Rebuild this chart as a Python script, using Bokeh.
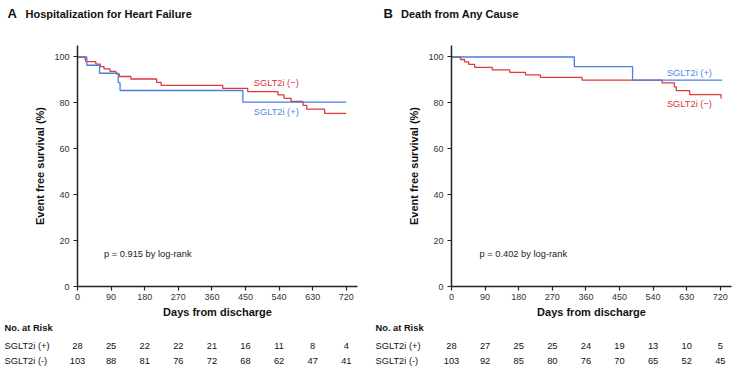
from bokeh.plotting import figure
from bokeh.layouts import row, column
from bokeh.models import Range1d, Label, FixedTicker
from bokeh.core.properties import value
from bokeh.embed import file_html
from bokeh.resources import INLINE

FONT = "Liberation Sans"
RED = "#E0393E"
BLUE = "#4A7FE0"
RED_TXT = "#D8343A"
BLUE_TXT = "#5588E6"

# ---------------- data ----------------
risk_days = [0, 90, 180, 270, 360, 450, 540, 630, 720]
y_ticks = [0, 20, 40, 60, 80, 100]

# Panel A: Hospitalization for Heart Failure
a_pos_days = [0, 25, 59, 109, 114, 443, 720]
a_pos_surv = [100, 96.4, 92.9, 88.8, 85.4, 80.3, 80.3]
a_neg_days = [0, 20, 22, 49, 61, 71, 87, 103, 112, 143, 212, 224, 389, 456, 537, 553, 572, 604, 614, 662, 720]
a_neg_surv = [100, 99.0, 98.0, 96.9, 95.8, 94.8, 93.7, 92.6, 91.5, 90.4, 88.9, 87.6, 86.3, 84.9, 83.5, 82.0, 80.6, 78.9, 77.3, 75.4, 75.4]
a_risk_pos = [28, 25, 22, 22, 21, 16, 11, 8, 4]
a_risk_neg = [103, 88, 81, 76, 72, 68, 62, 47, 41]

# Panel B: Death from Any Cause
b_pos_days = [0, 329, 485, 725]
b_pos_surv = [100, 95.8, 89.9, 89.9]
b_neg_days = [0, 24, 35, 46, 62, 109, 156, 198, 238, 350, 564, 597, 602, 638, 722]
b_neg_surv = [100, 98.9, 97.9, 96.8, 95.5, 94.4, 93.3, 92.2, 91.1, 89.9, 88.7, 87.0, 85.3, 83.6, 81.9]
b_risk_pos = [28, 27, 25, 25, 24, 19, 13, 10, 5]
b_risk_neg = [103, 92, 85, 80, 76, 70, 65, 52, 45]

W = 369
HEAD_H, CHART_H, TABLE_H = 25, 295, 50
TOP, BOTTOM = 20, 34
X_MAX, Y_MAX = 750, 105


def no_align(f):
    try:
        f.frame_align = False
    except Exception:
        pass


def blank(width, height, xr, yr):
    f = figure(width=width, height=height, x_range=xr, y_range=yr, output_backend="svg",
               toolbar_location=None, min_border=0, x_axis_type=None, y_axis_type=None)
    f.outline_line_color = None
    f.xgrid.visible = False
    f.ygrid.visible = False
    no_align(f)
    return f


def panel(letter, title, pos_d, pos_s, neg_d, neg_s, risk_pos, risk_neg, pval,
          pval_xy, lab_pos_xy, lab_neg_xy, left, right, letter_x, title_x, table_x):
    # header
    h = blank(W, HEAD_H, Range1d(0, W), Range1d(HEAD_H, 0))
    h.text(x=[letter_x], y=[13], text=[letter], text_font=value(FONT), text_font_size="13px",
           text_font_style="bold", text_color="#111111", text_baseline="middle")
    h.text(x=[title_x], y=[13], text=[title], text_font=value(FONT), text_font_size="11px",
           text_font_style="bold", text_color="#111111", text_baseline="middle")

    # chart
    p = figure(width=W, height=CHART_H, x_range=Range1d(0, X_MAX), y_range=Range1d(0, Y_MAX),
               output_backend="svg", toolbar_location=None, min_border=0,
               min_border_left=left, min_border_right=right,
               min_border_top=TOP, min_border_bottom=BOTTOM)
    no_align(p)
    p.outline_line_color = None
    p.xgrid.visible = False
    p.ygrid.visible = False

    for ax in (p.xaxis[0], p.yaxis[0]):
        ax.axis_line_color = "#222222"
        ax.axis_line_width = 1.5
        ax.major_tick_line_color = "#222222"
        ax.major_tick_line_width = 1.2
        ax.major_tick_out = 4
        ax.major_tick_in = 0
        ax.minor_tick_line_color = None
        ax.major_label_text_font = FONT
        ax.major_label_text_font_size = "9px"
        ax.major_label_text_color = "#333333"
        ax.axis_label_text_font = FONT
        ax.axis_label_text_font_size = "11px"
        ax.axis_label_text_font_style = "bold"
        ax.axis_label_text_color = "#111111"
    p.xaxis.ticker = FixedTicker(ticks=risk_days)
    p.yaxis.ticker = FixedTicker(ticks=y_ticks)
    p.xaxis.axis_label = "Days from discharge"
    p.yaxis.axis_label = "Event free survival (%)"
    p.xaxis.major_label_standoff = 3
    p.xaxis.axis_label_standoff = 3
    p.yaxis.major_label_standoff = 4
    p.yaxis.axis_label_standoff = 5

    p.step(x=neg_d, y=neg_s, mode="after", line_color=RED, line_width=1.3)
    p.step(x=pos_d, y=pos_s, mode="after", line_color=BLUE, line_width=1.3)

    p.add_layout(Label(x=lab_neg_xy[0], y=lab_neg_xy[1], text="SGLT2i (\u2212)", text_color=RED_TXT,
                       text_font=FONT, text_font_size="9.3px", text_baseline="middle"))
    p.add_layout(Label(x=lab_pos_xy[0], y=lab_pos_xy[1], text="SGLT2i (+)", text_color=BLUE_TXT,
                       text_font=FONT, text_font_size="9.3px", text_baseline="middle"))
    p.add_layout(Label(x=pval_xy[0], y=pval_xy[1], text=pval, text_color="#222222",
                       text_font=FONT, text_font_size="9.3px", text_baseline="middle"))

    # risk table (x range aligned with chart's x scale)
    k = (W - left - right) / X_MAX
    t = blank(W, TABLE_H, Range1d(-left / k, (W - left) / k), Range1d(TABLE_H, 0))
    top0 = HEAD_H + CHART_H
    rows = [("No. at Risk", None, 327, "bold"),
            ("SGLT2i (+)", risk_pos, 345, "normal"),
            ("SGLT2i (-)", risk_neg, 360.5, "normal")]
    for name, vals, py, style in rows:
        ty = py - top0
        t.text(x=[(table_x - left) / k], y=[ty], text=[name], text_font=value(FONT),
               text_font_size="9.3px", text_font_style=style, text_color="#111111",
               text_baseline="middle")
        if vals is not None:
            t.text(x=risk_days, y=[ty] * len(risk_days), text=[str(v) for v in vals],
                   text_font=value(FONT), text_font_size="9.3px", text_color="#111111",
                   text_align="center", text_baseline="middle")
    return column(row(h, spacing=0), p, row(t, spacing=0), spacing=0)


pa = panel("A", "Hospitalization for Heart Failure", a_pos_days, a_pos_surv, a_neg_days, a_neg_surv,
           a_risk_pos, a_risk_neg, "p = 0.915 by log-rank", (71, 14.2), (472, 76.1), (472, 88.6),
           left=77, right=12, letter_x=7, title_x=25, table_x=4)
pb = panel("B", "Death from Any Cause", b_pos_days, b_pos_surv, b_neg_days, b_neg_surv,
           b_risk_pos, b_risk_neg, "p = 0.402 by log-rank", (75, 14.2), (577, 93.2), (577, 79.4),
           left=82, right=7, letter_x=14, title_x=31.5, table_x=6)

layout = row(pa, pb, spacing=0)
open("out.html", "w").write(file_html(layout, INLINE))
